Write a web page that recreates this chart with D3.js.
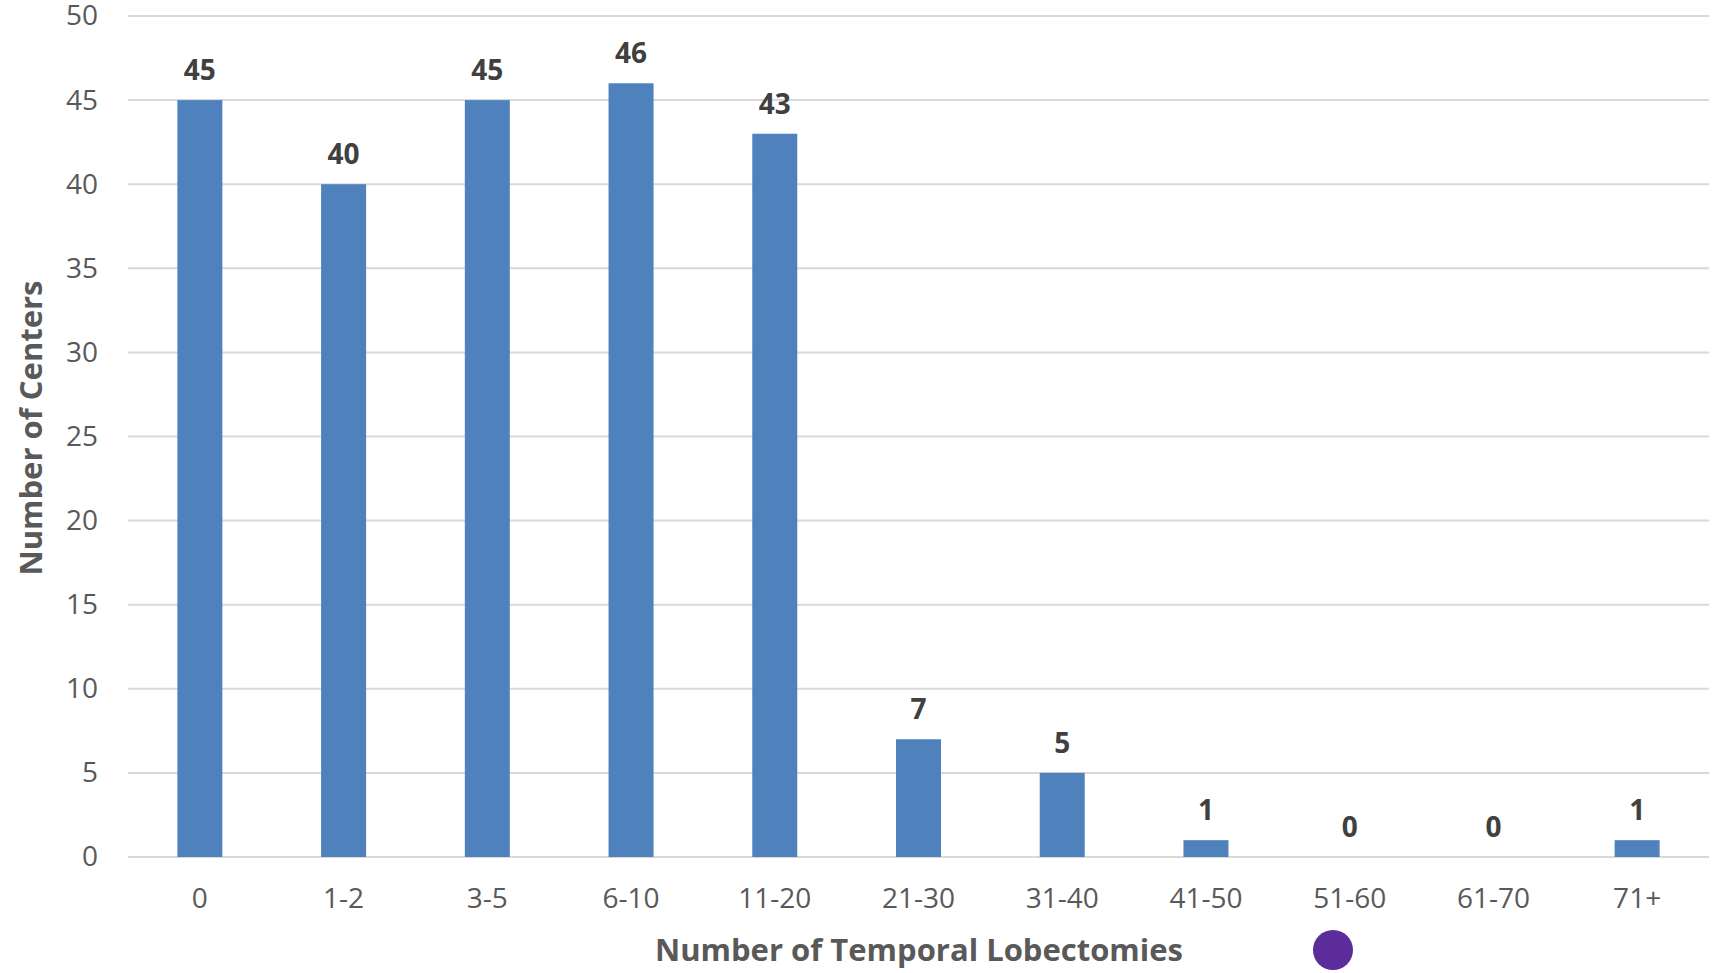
<!DOCTYPE html>
<html>
<head>
<meta charset="utf-8">
<script src="https://cdn.jsdelivr.net/npm/d3@7"></script>
<style>
  html, body { margin: 0; padding: 0; background: #fff; }
  svg { display: block; }
</style>
</head>
<body>
<svg id="chart" width="1720" height="973"></svg>
<script>
const categories = ["0", "1-2", "3-5", "6-10", "11-20", "21-30", "31-40", "41-50", "51-60", "61-70", "71+"];
const values = [45, 40, 45, 46, 43, 7, 5, 1, 0, 0, 1];
const yTicks = [0, 5, 10, 15, 20, 25, 30, 35, 40, 45, 50];
const xTitle = "Number of Temporal Lobectomies";
const yTitle = "Number of Centers";

(function () {
const svg = d3.select("#chart");
const pLeft = 128, pRight = 1709, pTop = 16, pBottom = 857;
const font = "'Open Sans', sans-serif";

const x = d3.scaleBand().domain(categories).range([pLeft, pRight]).paddingInner(0.687).paddingOuter(0.3435);
const y = d3.scaleLinear().domain([0, 50]).range([pBottom, pTop]);

// gridlines
svg.append("g").selectAll("line").data(yTicks).join("line")
  .attr("x1", pLeft).attr("x2", pRight)
  .attr("y1", d => y(d)).attr("y2", d => y(d))
  .attr("stroke", "#d9d9d9").attr("stroke-width", 2);

// y axis labels
const yAxis = d3.axisLeft(y).tickValues(yTicks).tickSize(0).tickPadding(30);
const gy = svg.append("g").attr("transform", `translate(${pLeft},0)`).call(yAxis);
gy.select(".domain").remove();
gy.selectAll("text").attr("font-family", font).attr("font-size", 28).attr("fill", "#595959");

// bars
svg.append("g").selectAll("rect").data(values).join("rect")
  .attr("x", (d, i) => x(categories[i]))
  .attr("width", x.bandwidth())
  .attr("y", d => y(d))
  .attr("height", d => y(0) - y(d))
  .attr("fill", "#4f81bd");

// data labels
svg.append("g").selectAll("text").data(values).join("text")
  .attr("x", (d, i) => x(categories[i]) + x.bandwidth() / 2)
  .attr("y", d => y(d) - 31)
  .attr("text-anchor", "middle").attr("dominant-baseline", "central")
  .attr("font-family", font).attr("font-size", 28).attr("font-weight", "bold")
  .attr("fill", "#404040")
  .text(d => d);

// x axis labels
const xAxis = d3.axisBottom(x).tickSize(0).tickPadding(0);
const gx = svg.append("g").attr("transform", `translate(0,${pBottom})`).call(xAxis);
gx.select(".domain").remove();
gx.selectAll("text").attr("font-family", font).attr("font-size", 28).attr("fill", "#595959")
  .attr("y", 40).attr("dy", null).attr("dominant-baseline", "central");

// axis titles
svg.append("text")
  .attr("x", 919).attr("y", 949)
  .attr("text-anchor", "middle").attr("dominant-baseline", "central")
  .attr("font-family", font).attr("font-size", 31).attr("font-weight", "bold")
  .attr("fill", "#595959").text(xTitle);

svg.append("text")
  .attr("transform", "translate(30,428) rotate(-90)")
  .attr("text-anchor", "middle").attr("dominant-baseline", "central")
  .attr("font-family", font).attr("font-size", 31).attr("font-weight", "bold")
  .attr("fill", "#595959").text(yTitle);

// purple dot
svg.append("circle").attr("cx", 1333).attr("cy", 950).attr("r", 20).attr("fill", "#5b2c9a");
})();
</script>
</body>
</html>
